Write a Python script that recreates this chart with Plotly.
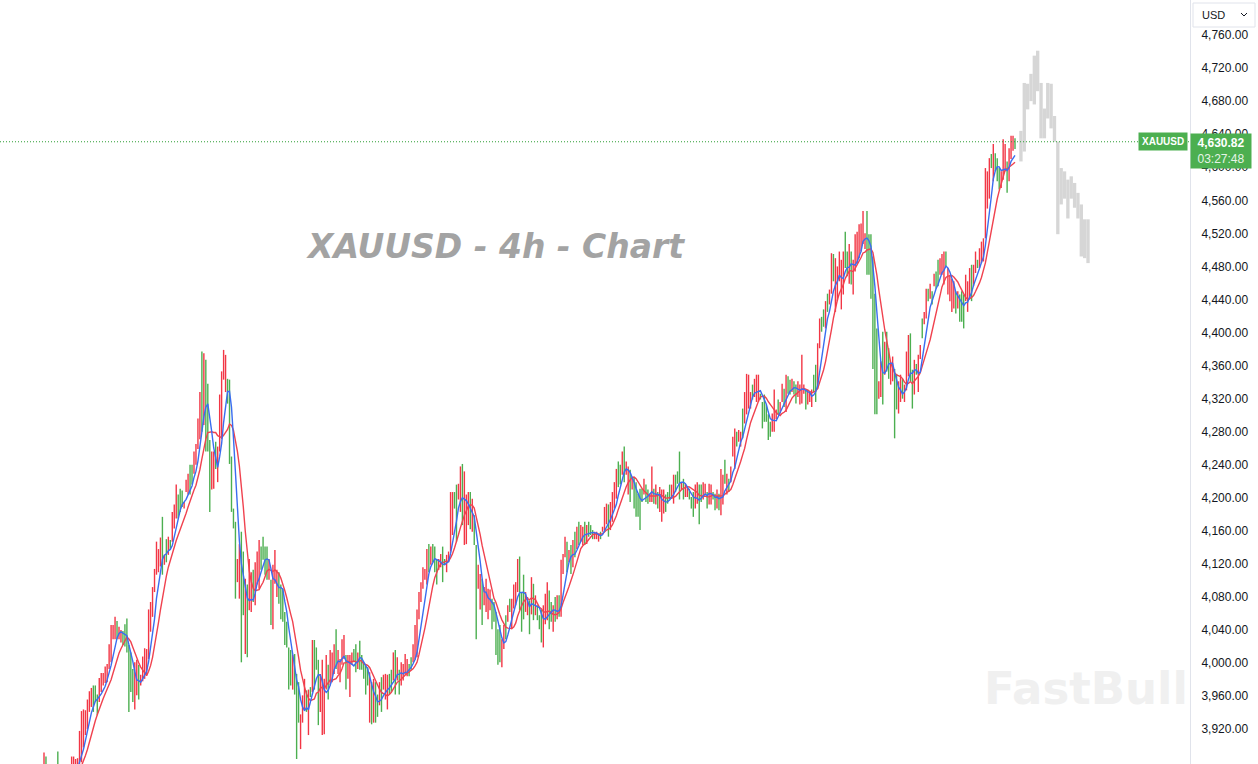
import plotly.graph_objects as go
import pandas as pd

# ---------------- data ----------------
direction = (
    "RGGRRGRGGG" "RRGGRRRRRR" "RRRRRGGGRR" "RRRRRRRGRR" "GGGGGGRRGR"
    "RRRRRRRRRR" "GRGRGRRRGG" "GRRRGGRRRR" "GRGGGRRGRR" "RRRGGGGGRR"
    "GGRGRRGRRR" "GGGGRGRRRG" "GGGGGGRGGG" "RRRGRGRGGG" "RRRRGRRRGR"
    "RRRGRRRGGR" "GGGGGRGRGG" "RGRRRGGRGR" "GRRRRGGRRR" "RRR"
    "RRGRGGGRRG"
    "GRRRRGGRRG" "RRRGRGGRRG" "RRRRGGGGGR" "RGRGRRRRGG" "GRRGRGRGGG"
    "RRRGGRGRGR" "RRGRGRGRGR" "RGRGGGRRRG" "RRRGRRRRGG" "RGRRGRGGGG"
    "GRGGRRGRGR" "RRGGGRRGGG" "RGRRGGGRRG" "GRRGRRGGRG" "RRGRGRRRGR"
    "RGRRRRGRRR" "GGGGGGRRRG" "RRGRGGRGGR" "RRRGRRRGGR" "RGGRGRRGRR"
    "RRRGGRGRRR" "RRRRGGGGGG" "RRGRGGRRGG" "RRGRRRGGRG" "RRGRRGRGRG"
    "GRRRGRRRRG" "RGGGRRRGRR" "GRRRRRRGRG" "GGRRRGRRRG"
)

high = [
    3892, 3887, 3872, 3870, 3873, 3874, 3876, 3893, 3872, 3865,
    3868, 3870, 3872, 3870, 3887, 3887, 3884, 3885, 3918, 3942,
    3944, 3943, 3956, 3966, 3970, 3973, 3973, 3962, 3982, 3988,
    3988, 3996, 3999, 4023, 4046, 4046, 4056, 4051, 4044, 4040,
    4039, 4047, 4054, 4022, 4013, 3993, 4001, 4004, 3998, 3986,
    4008, 4018, 4017, 4065, 4074, 4092, 4114, 4147, 4138, 4152,
    4177, 4131, 4150, 4153, 4149, 4183, 4192, 4216, 4204, 4211,
    4209, 4195, 4222, 4229, 4240, 4240, 4256, 4265, 4296, 4328,
    4377, 4375, 4367, 4338, 4270, 4256, 4256, 4268, 4262, 4325,
    4353, 4379, 4373, 4344, 4343, 4250, 4187, 4171, 4126, 4144,
    4159, 4135, 4102, 4095, 4126, 4110, 4113, 4122, 4135, 4149,
    4141, 4153, 4141, 4141, 4126, 4101, 4119, 4137, 4113, 4110,
    4095, 4090, 4062, 4050, 4019, 4016, 4010, 4011, 3987, 3977,
    3938, 3961, 3981, 3967, 3968, 3971, 4028, 4028, 4019, 4004,
    3987, 4004, 3981, 4010, 3998, 4016, 4013, 4023, 4041, 4016,
    4005, 4029, 4034, 4010, 4010, 4010, 4013, 4017, 4023, 4013,
    4027, 4010, 4001, 3999, 3995, 3989, 3977, 3981, 3977, 3962,
    3977, 3983, 3986, 3987, 3986, 3987, 3992, 4013, 4016, 4007,
    3992, 4001, 3999, 4011, 4005, 3999, 4007, 4023, 4046, 4065,
    4086, 4098, 4116,
    4114, 4138, 4144, 4141, 4144, 4141, 4126, 4126, 4132, 4141,
    4126, 4131, 4135, 4207, 4207, 4207, 4216, 4217, 4238, 4241,
    4232, 4204, 4207, 4207, 4199, 4179, 4143, 4119, 4108, 4102,
    4092, 4102, 4090, 4089, 4078, 4074, 4062, 4041, 4046, 4029,
    4046, 4058, 4070, 4078, 4078, 4095, 4098, 4126, 4129, 4086,
    4107, 4086, 4080, 4076, 4104, 4096, 4082, 4070, 4058, 4065,
    4070, 4084, 4098, 4088, 4074, 4070, 4080, 4082, 4082, 4125,
    4132, 4153, 4147, 4137, 4143, 4149, 4159, 4165, 4171, 4167,
    4165, 4171, 4167, 4171, 4167, 4161, 4159, 4159, 4156, 4159,
    4165, 4189, 4193, 4192, 4195, 4207, 4219, 4235, 4244, 4240,
    4256, 4262, 4244, 4238, 4234, 4225, 4225, 4219, 4205, 4211,
    4211, 4223, 4216, 4210, 4205, 4238, 4211, 4216, 4207, 4213,
    4210, 4210, 4204, 4207, 4216, 4216, 4228, 4228, 4232, 4256,
    4219, 4223, 4217, 4213, 4211, 4201, 4207, 4216, 4219, 4216,
    4216, 4219, 4217, 4207, 4217, 4216, 4207, 4205, 4210, 4205,
    4235, 4228, 4246, 4229, 4223, 4238, 4274, 4284, 4280, 4282,
    4280, 4308, 4328, 4350, 4349, 4328, 4337, 4344, 4349, 4349,
    4326, 4316, 4325, 4313, 4301, 4292, 4302, 4331, 4307, 4319,
    4316, 4338, 4332, 4349, 4347, 4343, 4344, 4341, 4337, 4341,
    4337, 4373, 4337, 4331, 4331, 4328, 4331, 4349, 4361, 4387,
    4417, 4419, 4428, 4438, 4447, 4452, 4496, 4495, 4490, 4480,
    4498, 4488, 4498, 4522, 4498, 4507, 4498, 4488, 4519, 4522,
    4531, 4532, 4547, 4520, 4547, 4519, 4519, 4492, 4447, 4405,
    4341, 4365, 4401, 4389, 4401, 4381, 4362, 4371, 4356, 4350,
    4341, 4349, 4344, 4337, 4377, 4397, 4399, 4355, 4367, 4362,
    4373, 4385, 4417, 4425, 4453, 4453, 4459, 4450, 4471, 4474,
    4488, 4490, 4495, 4498, 4498, 4478, 4470, 4465, 4462, 4450,
    4450, 4446, 4450, 4446, 4470, 4462, 4478, 4482, 4482, 4498,
    4488, 4502, 4510, 4514, 4599, 4595, 4611, 4616, 4628, 4617,
    4611, 4599, 4595, 4634, 4628, 4607, 4623, 4638, 4638, 4635,
]

low = [
    3868, 3866, 3852, 3850, 3855, 3858, 3860, 3866, 3850, 3845,
    3848, 3852, 3855, 3853, 3862, 3865, 3863, 3868, 3874, 3880,
    3898, 3913, 3920, 3941, 3947, 3941, 3953, 3937, 3953, 3965,
    3973, 3976, 3977, 3993, 4001, 4029, 4029, 4029, 4029, 4025,
    4022, 4020, 4013, 3941, 3965, 3953, 3944, 3961, 3956, 3973,
    3978, 3981, 3986, 4005, 4038, 4056, 4086, 4107, 4110, 4117,
    4107, 4119, 4122, 4131, 4137, 4147, 4163, 4175, 4175, 4183,
    4189, 4187, 4207, 4204, 4204, 4216, 4229, 4240, 4259, 4271,
    4280, 4288, 4256, 4256, 4183, 4210, 4211, 4235, 4219, 4256,
    4271, 4343, 4328, 4314, 4241, 4183, 4163, 4078, 4098, 4078,
    4001, 4058, 4011, 4007, 4064, 4062, 4074, 4070, 4095, 4090,
    4113, 4125, 4107, 4101, 4101, 4046, 4041, 4096, 4080, 4072,
    4053, 4050, 4022, 4019, 3968, 3973, 3968, 3962, 3884, 3928,
    3896, 3928, 3944, 3941, 3913, 3959, 3965, 3968, 3992, 3925,
    3941, 3913, 3914, 3968, 3956, 3973, 3977, 3987, 3993, 3987,
    3977, 3998, 4005, 3968, 3981, 3959, 3998, 4001, 3989, 3993,
    3992, 3992, 3981, 3962, 3973, 3928, 3926, 3928, 3928, 3935,
    3949, 3941, 3968, 3956, 3944, 3962, 3965, 3979, 3962, 3979,
    3962, 3973, 3979, 3986, 3984, 3984, 3992, 4001, 4004, 4007,
    4053, 4074, 4090,
    4101, 4095, 4110, 4119, 4122, 4110, 4095, 4113, 4116, 4098,
    4119, 4110, 4122, 4135, 4155, 4187, 4147, 4198, 4183, 4167,
    4143, 4144, 4167, 4162, 4159, 4143, 4029, 4090, 4065, 4046,
    4070, 4062, 4053, 4064, 4041, 4050, 4010, 3998, 4001, 3995,
    4017, 4029, 4050, 4062, 4041, 4066, 4070, 4086, 4064, 4038,
    4053, 4062, 4058, 4035, 4059, 4052, 4058, 4052, 4041, 4025,
    4019, 4047, 4052, 4041, 4050, 4038, 4050, 4053, 4056, 4056,
    4108, 4128, 4110, 4122, 4108, 4116, 4128, 4138, 4143, 4147,
    4143, 4143, 4144, 4153, 4155, 4150, 4150, 4150, 4147, 4150,
    4159, 4161, 4168, 4153, 4161, 4171, 4187, 4199, 4213, 4216,
    4228, 4219, 4228, 4204, 4195, 4210, 4187, 4177, 4177, 4161,
    4195, 4204, 4195, 4193, 4195, 4195, 4193, 4192, 4187, 4183,
    4171, 4181, 4183, 4193, 4198, 4201, 4193, 4207, 4217, 4198,
    4210, 4198, 4201, 4201, 4198, 4187, 4177, 4187, 4193, 4168,
    4195, 4198, 4205, 4187, 4192, 4192, 4198, 4185, 4187, 4185,
    4179, 4192, 4217, 4204, 4207, 4219, 4250, 4235, 4262, 4268,
    4262, 4272, 4290, 4301, 4308, 4308, 4319, 4322, 4316, 4316,
    4319, 4284, 4292, 4292, 4270, 4274, 4280, 4280, 4295, 4301,
    4302, 4316, 4310, 4304, 4326, 4325, 4328, 4325, 4314, 4322,
    4313, 4314, 4326, 4307, 4313, 4316, 4310, 4328, 4316, 4332,
    4381, 4401, 4407, 4405, 4425, 4434, 4447, 4462, 4425, 4438,
    4462, 4428, 4446, 4478, 4468, 4459, 4458, 4446, 4474, 4484,
    4490, 4498, 4507, 4501, 4470, 4470, 4441, 4356, 4301, 4301,
    4320, 4322, 4313, 4349, 4353, 4344, 4337, 4341, 4272, 4307,
    4302, 4316, 4320, 4316, 4330, 4347, 4341, 4308, 4325, 4349,
    4328, 4368, 4393, 4410, 4417, 4438, 4441, 4434, 4456, 4453,
    4456, 4470, 4470, 4458, 4480, 4446, 4438, 4425, 4429, 4423,
    4429, 4413, 4413, 4405, 4438, 4425, 4440, 4438, 4456, 4472,
    4478, 4478, 4484, 4486, 4514, 4550, 4562, 4599, 4583, 4595,
    4583, 4573, 4575, 4585, 4595, 4569, 4583, 4610, 4620, 4622,
]

# projected ("ghost") bars after the last real bar
ghost_high = [4644, 4702, 4701, 4713, 4735, 4741, 4702, 4671, 4702, 4701, 4662,
              4631, 4599, 4595, 4585, 4589, 4581, 4569, 4555, 4537, 4537]
ghost_low = [4607, 4619, 4670, 4680, 4676, 4692, 4635, 4635, 4659, 4647, 4631,
             4519, 4555, 4562, 4538, 4562, 4551, 4538, 4492, 4490, 4484]

price_ticks = [3880, 3920, 3960, 4000, 4040, 4080, 4120, 4160, 4200, 4240, 4280,
               4320, 4360, 4400, 4440, 4480, 4520, 4560, 4600, 4640, 4680, 4720, 4760]
last_price = 4630.82
countdown = "03:27:48"
symbol = "XAUUSD"
currency = "USD"
chart_title = "XAUUSD - 4h - Chart"
brand = "FastBull"
fast_period = 5
slow_period = 10

# ---------------- styles ----------------
UP = "#f23645"
DOWN = "#4caf50"
MA_FAST = "#3a6df0"
MA_SLOW = "#f0424f"
GHOST = "#d6d6d6"
W, H = 1258, 764
PLOT_W = 1190
FIRST_PX, LAST_PX = 44, 1015
PX_PER_UNIT = 0.8265
TOP_LABEL_PX = 35

n = len(high)
idx = list(range(n))
bar_px = (LAST_PX - FIRST_PX) / (n - 1)
x_lo = -FIRST_PX / bar_px
x_hi = x_lo + PLOT_W / bar_px
y_hi = price_ticks[-1] + TOP_LABEL_PX / PX_PER_UNIT
y_lo = y_hi - H / PX_PER_UNIT

mid = pd.Series([(h + l) / 2 for h, l in zip(high, low)])
ma_fast = mid.rolling(fast_period).mean()
ma_slow = mid.rolling(slow_period).mean()


def segments(kind):
    xs, ys = [], []
    for i in idx:
        if direction[i] == kind:
            xs += [i, i, None]
            ys += [low[i], high[i], None]
    return xs, ys


fig = go.Figure()
for kind, col in (("R", UP), ("G", DOWN)):
    xs, ys = segments(kind)
    fig.add_trace(go.Scatter(x=xs, y=ys, mode="lines", line=dict(color=col, width=1.4),
                             hoverinfo="skip"))

ghost_step = 1.7
ghost_x = [n + 2 + ghost_step * k for k in range(len(ghost_high))]
fig.add_trace(go.Bar(x=ghost_x, y=[h - l for h, l in zip(ghost_high, ghost_low)],
                     base=ghost_low, width=ghost_step, marker=dict(color=GHOST, line=dict(width=0)),
                     hoverinfo="skip"))

fig.add_trace(go.Scatter(x=idx, y=ma_slow, mode="lines", line=dict(color=MA_SLOW, width=1.4),
                         hoverinfo="skip"))
fig.add_trace(go.Scatter(x=idx, y=ma_fast, mode="lines", line=dict(color=MA_FAST, width=1.4),
                         hoverinfo="skip"))


def px_x(p):
    return p / PLOT_W


def px_y(p):
    return 1 - p / H


fig.update_layout(
    width=W, height=H, margin=dict(l=0, r=W - PLOT_W, t=0, b=0),
    paper_bgcolor="white", plot_bgcolor="white", showlegend=False, hovermode=False,
    xaxis=dict(range=[x_lo, x_hi], visible=False, showgrid=False, zeroline=False),
    yaxis=dict(range=[y_lo, y_hi], side="right", tickvals=price_ticks,
               ticktext=[f"{v:,.2f}" for v in price_ticks], showgrid=False, zeroline=False,
               showline=True, linecolor="#e0e3eb", linewidth=1, ticks="",
               ticklabelstandoff=8,
               tickfont=dict(family="Liberation Sans, Arial, sans-serif", size=12, color="#131722")),
    font=dict(family="Liberation Sans, Arial, sans-serif"),
)

# last price dotted line
fig.add_shape(type="line", xref="paper", x0=0, x1=1, yref="y", y0=last_price, y1=last_price,
              line=dict(color="#2f9e36", width=1.2, dash="1px,2px"))

# watermark title
fig.add_annotation(xref="paper", yref="paper", x=px_x(495), y=px_y(247),
                   xanchor="center", yanchor="middle", showarrow=False,
                   text=f"<b><i>{chart_title}</i></b>",
                   font=dict(family="DejaVu Sans", size=33, color="#a3a3a3"))
# brand watermark
fig.add_annotation(xref="paper", yref="paper", x=px_x(1086), y=px_y(688),
                   xanchor="center", yanchor="middle", showarrow=False,
                   text=f"<b>{brand}</b>",
                   font=dict(family="DejaVu Sans", size=45, color="#f0f0f0"))

# symbol tag
fig.add_annotation(xref="paper", yref="y", x=1, y=last_price, xanchor="right", yanchor="middle",
                   xshift=-2, showarrow=False, text=f"<b>{symbol}</b>", bgcolor=DOWN,
                   borderpad=3, font=dict(size=10, color="white"))
# price + countdown tag on axis
fig.add_annotation(xref="paper", yref="y", x=1, y=last_price, xanchor="left", yanchor="top",
                   yshift=9, showarrow=False, width=56, align="center",
                   text=f"<b>{last_price:,.2f}</b><br><span style='color:#e6f4e7'>{countdown}</span>",
                   bgcolor=DOWN, borderpad=2, font=dict(size=12, color="white"))

# currency selector
fig.add_shape(type="rect", xref="paper", yref="paper", x0=px_x(1193), x1=px_x(1255),
              y0=px_y(27), y1=px_y(3), fillcolor="white", line=dict(color="#e0e3eb", width=1),
              layer="above")
fig.add_annotation(xref="paper", yref="paper", x=px_x(1200), y=px_y(15), xanchor="left",
                   yanchor="middle", showarrow=False, text=currency,
                   font=dict(size=11, color="#131722"))
fig.add_shape(type="path", xref="paper", yref="paper",
              path=f"M {px_x(1241)},{px_y(13)} L {px_x(1244)},{px_y(16)} L {px_x(1247)},{px_y(13)}",
              line=dict(color="#131722", width=1))

fig.write_html("out.html", config={"displayModeBar": False},
               post_script="document.body.style.margin='0';document.body.style.overflow='hidden';")
